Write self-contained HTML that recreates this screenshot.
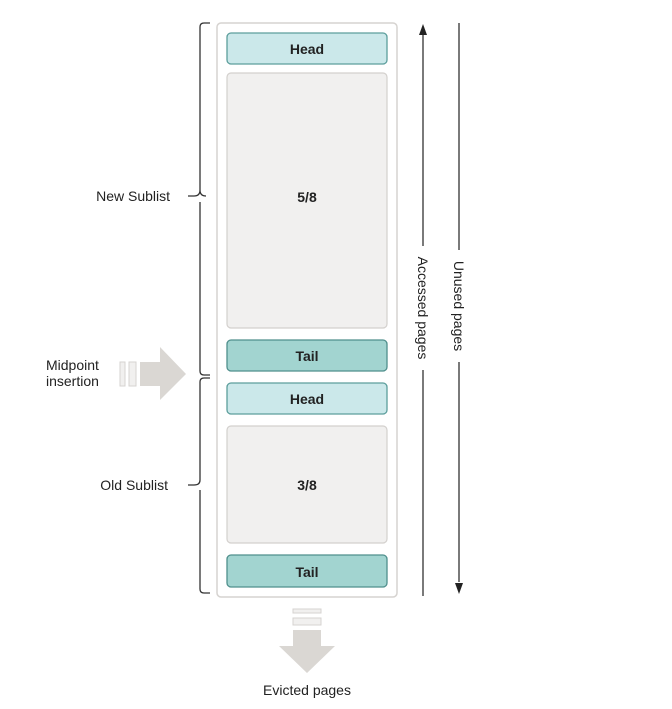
<!DOCTYPE html>
<html><head><meta charset="utf-8"><style>
html,body{margin:0;padding:0;background:#fff;}
svg{display:block;}
text{font-family:"Liberation Sans",sans-serif;fill:#222;}
</style></head><body>
<svg width="672" height="709" viewBox="0 0 672 709" xmlns="http://www.w3.org/2000/svg">
<rect x="217" y="23" width="180" height="574" rx="4" fill="#fff" stroke="#d6d3d0" stroke-width="1.5"/>
<rect x="227" y="33" width="160" height="31" rx="4" fill="#cbe8ea" stroke="#5c9e9c" stroke-width="1.3"/>
<text x="307" y="54" font-size="14" font-weight="bold" text-anchor="middle">Head</text>
<rect x="227" y="73" width="160" height="255" rx="4" fill="#f1f0ef" stroke="#d3d0cd" stroke-width="1.2"/>
<text x="307" y="202" font-size="14" font-weight="bold" text-anchor="middle">5/8</text>
<rect x="227" y="340" width="160" height="31" rx="4" fill="#a2d4d0" stroke="#4f8f8c" stroke-width="1.3"/>
<text x="307" y="361" font-size="14" font-weight="bold" text-anchor="middle">Tail</text>
<rect x="227" y="383" width="160" height="31" rx="4" fill="#cbe8ea" stroke="#5c9e9c" stroke-width="1.3"/>
<text x="307" y="404" font-size="14" font-weight="bold" text-anchor="middle">Head</text>
<rect x="227" y="426" width="160" height="117" rx="4" fill="#f1f0ef" stroke="#d3d0cd" stroke-width="1.2"/>
<text x="307" y="490" font-size="14" font-weight="bold" text-anchor="middle">3/8</text>
<rect x="227" y="555" width="160" height="32" rx="4" fill="#a2d4d0" stroke="#4f8f8c" stroke-width="1.3"/>
<text x="307" y="577" font-size="14" font-weight="bold" text-anchor="middle">Tail</text>
<!-- braces -->
<g fill="none" stroke="#333" stroke-width="1.3">
<path d="M210 23 H204 Q200 23 200 27 V190 Q200 196 194 196 H188 M200 190 Q200 196 206 196 M200 202 V371 Q200 375 204 375 H210"/>
<path d="M210 378 H204 Q200 378 200 382 V480 Q200 485 194 485 H188 M200 490 V589 Q200 593 204 593 H210"/>
<path d="M423 34 V246 M423 370 V596"/>
<path d="M459 23 V250 M459 362 V582"/>
</g>
<path d="M423 24 L419 35 L427 35 Z" fill="#222"/>
<path d="M459 594 L455 583 L463 583 Z" fill="#222"/>
<text transform="translate(418,308) rotate(90)" font-size="14" text-anchor="middle">Accessed pages</text>
<text transform="translate(454,306) rotate(90)" font-size="14" text-anchor="middle">Unused pages</text>
<text x="170" y="201" font-size="14" text-anchor="end">New Sublist</text>
<text x="168" y="490" font-size="14" text-anchor="end">Old Sublist</text>
<text x="46" y="370" font-size="14">Midpoint</text>
<text x="46" y="386" font-size="14">insertion</text>
<!-- midpoint arrow -->
<g fill="#f1f0ef" stroke="#d6d3d0" stroke-width="1">
<rect x="120" y="362" width="5" height="24"/>
<rect x="129" y="362" width="7" height="24"/>
</g>
<path d="M140 362 H160 V347 L186 374 L160 400 V386 H140 Z" fill="#dad7d3"/>
<!-- evicted -->
<g fill="#f1f0ef" stroke="#d6d3d0" stroke-width="1">
<rect x="293" y="609" width="28" height="4"/>
<rect x="293" y="618" width="28" height="7"/>
</g>
<path d="M293 630 H321 V646 H335 L307 673 L279 646 H293 Z" fill="#dad7d3"/>
<text x="307" y="695" font-size="14" text-anchor="middle">Evicted pages</text>
</svg>
</body></html>
